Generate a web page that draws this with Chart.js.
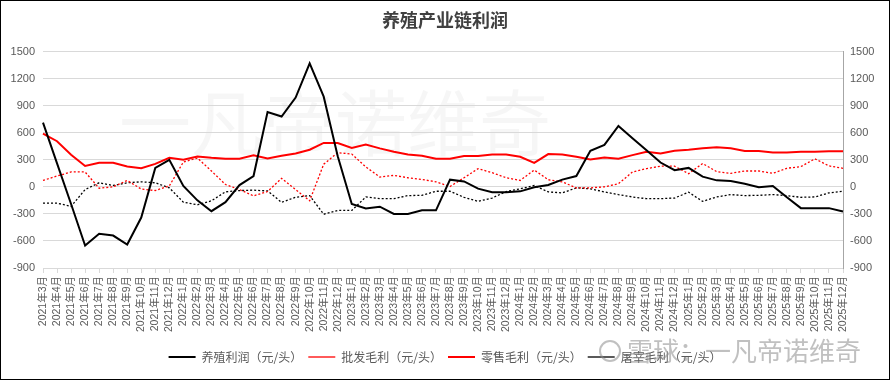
<!DOCTYPE html>
<html>
<head>
<meta charset="utf-8">
<script src="https://cdn.jsdelivr.net/npm/chart.js@4.4.0/dist/chart.umd.min.js"></script>
<style>
  html, body { margin: 0; padding: 0; background: #fff; }
  #wrap { width: 890px; height: 380px; box-sizing: border-box; border: 1px solid #000; position: relative; }
</style>
</head>
<body>
<div id="wrap"><canvas id="myChart"></canvas></div>
<script>
const months = ['2021年3月', '2021年4月', '2021年5月', '2021年6月', '2021年7月', '2021年8月', '2021年9月', '2021年10月', '2021年11月', '2021年12月',
    '2022年1月', '2022年2月', '2022年3月', '2022年4月', '2022年5月', '2022年6月', '2022年7月', '2022年8月', '2022年9月', '2022年10月', '2022年11月', '2022年12月',
    '2023年1月', '2023年2月', '2023年3月', '2023年4月', '2023年5月', '2023年6月', '2023年7月', '2023年8月', '2023年9月', '2023年10月', '2023年11月', '2023年12月',
    '2024年1月', '2024年2月', '2024年3月', '2024年4月', '2024年5月', '2024年6月', '2024年7月', '2024年8月', '2024年9月', '2024年10月', '2024年11月', '2024年12月',
    '2025年1月', '2025年2月', '2025年3月', '2025年4月', '2025年5月', '2025年6月', '2025年7月', '2025年8月', '2025年9月', '2025年10月', '2025年11月', '2025年12月'];

const farmProfit = [712, 260, -190, -650, -520, -540, -640, -340, 210, 300, 10, -150, -270, -170, 20, 120, 830, 780, 990, 1370, 1000, 340, -190, -240, -220, -300, -300, -260, -260, 80, 60, -20, -60, -60, -50, -5, 20, 80, 120, 400, 465, 675, 540, 405, 270, 185, 210, 113, 72, 64, 34, -4, 10, -116, -236, -236, -236, -274];
const wholesaleMargin = [71, 120, 165, 165, -15, 0, 71, -25, -41, 10, 275, 320, 176, 26, -30, -100, -52, 95, -30, -154, 251, 379, 364, 221, 109, 127, 101, 82, 56, 4, 101, 202, 157, 101, 71, 187, 79, 55, -11, -11, 0, 34, 165, 202, 229, 229, 146, 259, 169, 150, 176, 176, 150, 206, 225, 311, 232, 206];
const retailMargin = [589, 506, 356, 232, 266, 266, 225, 206, 255, 322, 300, 337, 322, 311, 311, 349, 315, 345, 371, 412, 487, 487, 431, 469, 427, 390, 360, 345, 311, 311, 341, 341, 360, 360, 334, 266, 364, 360, 334, 304, 326, 311, 352, 390, 371, 401, 412, 427, 439, 427, 397, 397, 382, 382, 390, 390, 394, 394];
const slaughterMargin = [-180, -180, -217, -30, 45, 15, 45, 56, 45, -11, -170, -199, -155, -55, -41, -37, -45, -172, -115, -97, -304, -262, -262, -112, -131, -131, -97, -94, -49, -49, -116, -161, -124, -52, -22, 15, -56, -67, -11, -22, -56, -86, -112, -131, -131, -124, -60, -161, -112, -86, -97, -94, -86, -97, -116, -112, -67, -49];

const tickFont = { family: "'Liberation Sans', 'Noto Sans CJK SC', sans-serif", size: 11 };
const gray = '#595959';

// 水印
const watermark = {
    id: 'watermark',
    beforeDraw(chart) {
        const c = chart.ctx;
        c.save();
        c.font = "72px 'Noto Sans CJK SC'";
        c.fillStyle = 'rgba(0,0,0,0.035)';
        c.textBaseline = 'middle';
        c.fillText('一凡帝诺维奇', 118, 122);
        c.restore();
    },
    afterDraw(chart) {
        const c = chart.ctx;
        c.save();
        c.strokeStyle = 'rgba(140,140,140,0.55)';
        c.lineWidth = 2;
        c.beginPath();
        c.arc(609, 350, 10, 0, Math.PI * 2);
        c.stroke();
        c.font = "26px 'Noto Sans CJK SC'";
        c.fillStyle = 'rgba(140,140,140,0.55)';
        c.textBaseline = 'middle';
        c.fillText('雪球：一凡帝诺维奇', 626, 350);
        c.restore();
    }
};

const ctx = document.getElementById('myChart').getContext('2d');

const myChart = new Chart(ctx, {
    type: 'line',
    data: {
        labels: months,
        datasets: [
            {
                label: '养殖利润（元/头）',
                data: farmProfit,
                borderColor: '#000000',
                borderWidth: 2,
                yAxisID: 'y'
            },
            {
                label: '批发毛利（元/头）',
                data: wholesaleMargin,
                borderColor: '#ff0000',
                borderWidth: 1.3,
                borderDash: [2, 2],
                yAxisID: 'y'
            },
            {
                label: '零售毛利（元/头）',
                data: retailMargin,
                borderColor: '#ff0000',
                borderWidth: 2,
                yAxisID: 'y'
            },
            {
                label: '屠宰毛利（元/头）',
                data: slaughterMargin,
                borderColor: '#000000',
                borderWidth: 1.3,
                borderDash: [2, 2],
                yAxisID: 'y1'
            }
        ]
    },
    options: {
        responsive: true,
        maintainAspectRatio: false,
        animation: false,
        elements: {
            point: { radius: 0 },
            line: { tension: 0 }
        },
        layout: { padding: { left: 0, right: 0, top: 0, bottom: 6 } },
        scales: {
            x: {
                offset: false,
                grid: { drawOnChartArea: false, color: '#d9d9d9', tickLength: 5 },
                border: { color: '#d9d9d9' },
                ticks: {
                    autoSkip: false,
                    maxRotation: 90,
                    minRotation: 90,
                    padding: 3,
                    color: gray,
                    font: { family: tickFont.family, size: 10.5 }
                },
                afterFit(s) { s.height = 77; }
            },
            y: {
                position: 'left',
                min: -900,
                max: 1500,
                grid: { color: '#d9d9d9', drawTicks: false },
                border: { display: false },
                ticks: { stepSize: 300, padding: 8, color: gray, font: tickFont, callback: v => String(v) },
                afterFit(s) { s.width = 42; }
            },
            y1: {
                position: 'right',
                min: -900,
                max: 1500,
                grid: { drawOnChartArea: false, drawTicks: false },
                border: { display: true, color: '#a6a6a6' },
                ticks: { stepSize: 300, padding: 7, color: gray, font: tickFont, callback: v => String(v) },
                afterFit(s) { s.width = 46; }
            }
        },
        plugins: {
            title: {
                display: true,
                text: '养殖产业链利润',
                color: '#404040',
                font: { family: "'Noto Sans CJK SC', sans-serif", size: 18, weight: 'bold' },
                padding: { top: 8, bottom: 21 }
            },
            legend: {
                position: 'bottom',
                labels: {
                    usePointStyle: true,
                    pointStyle: 'line',
                    pointStyleWidth: 27,
                    boxHeight: 12,
                    padding: 6,
                    color: gray,
                    font: { family: "'Noto Sans CJK SC', sans-serif", size: 12 }
                }
            },
            tooltip: { enabled: false }
        }
    },
    plugins: [watermark]
});
</script>
</body>
</html>
